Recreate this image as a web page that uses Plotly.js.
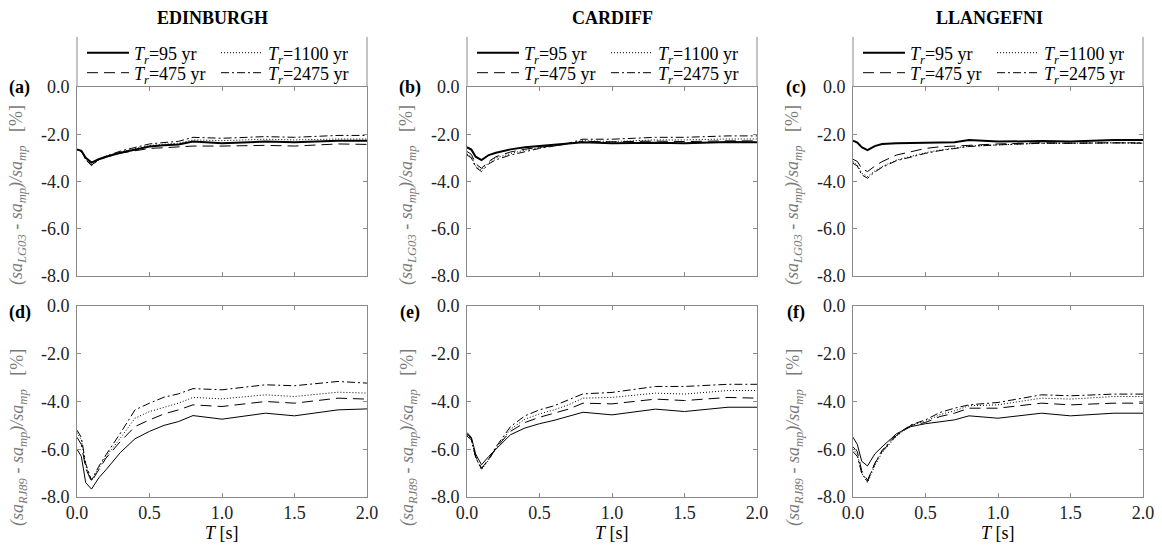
<!DOCTYPE html>
<html>
<head>
<meta charset="utf-8">
<script src="https://cdn.plot.ly/plotly-3.0.1.min.js"></script>
<style>html,body{margin:0;padding:0;background:#fff;}#chart{width:1162px;height:551px;}</style>
</head>
<body>
<div id="chart"></div>
<script>
// ---------------- data ----------------
const periods = [0, 0.03, 0.06, 0.1, 0.15, 0.2, 0.3, 0.4, 0.5, 0.6, 0.7, 0.8, 1.0, 1.3, 1.5, 1.8, 2.0];

const cities = ["EDINBURGH", "CARDIFF", "LLANGEFNI"];
const panelLabels = ["(a)", "(b)", "(c)", "(d)", "(e)", "(f)"];
const returnPeriods = ["95", "475", "1100", "2475"];

const xTickVals = [0, 0.5, 1.0, 1.5, 2.0];
const xTickText = ["0.0", "0.5", "1.0", "1.5", "2.0"];
const yTickVals = [-8, -6, -4, -2, 0];
const yTickText = ["-8.0", "-6.0", "-4.0", "-2.0", "0.0"];

// (a) Edinburgh, LG03
const a_95   = [-2.64, -2.70, -3.00, -3.20, -3.06, -2.95, -2.78, -2.64, -2.52, -2.47, -2.43, -2.31, -2.38, -2.31, -2.34, -2.27, -2.27];
const a_475  = [-2.64, -2.72, -3.05, -3.30, -3.10, -2.97, -2.80, -2.70, -2.60, -2.57, -2.55, -2.50, -2.50, -2.47, -2.50, -2.41, -2.43];
const a_1100 = [-2.64, -2.72, -3.05, -3.30, -3.08, -2.93, -2.75, -2.60, -2.48, -2.42, -2.38, -2.24, -2.27, -2.21, -2.24, -2.20, -2.20];
const a_2475 = [-2.64, -2.72, -3.08, -3.33, -3.08, -2.93, -2.71, -2.55, -2.41, -2.35, -2.30, -2.13, -2.17, -2.10, -2.13, -2.05, -2.05];
// (b) Cardiff, LG03
const b_95   = [-2.55, -2.65, -2.95, -3.09, -2.88, -2.78, -2.64, -2.55, -2.50, -2.45, -2.41, -2.34, -2.38, -2.36, -2.38, -2.33, -2.34];
const b_475  = [-2.73, -2.85, -3.25, -3.44, -3.15, -2.95, -2.75, -2.63, -2.55, -2.48, -2.42, -2.30, -2.32, -2.29, -2.31, -2.28, -2.28];
const b_1100 = [-2.84, -2.95, -3.35, -3.51, -3.20, -3.00, -2.82, -2.67, -2.57, -2.49, -2.40, -2.27, -2.31, -2.24, -2.24, -2.20, -2.20];
const b_2475 = [-2.88, -3.00, -3.40, -3.58, -3.25, -3.08, -2.88, -2.73, -2.60, -2.50, -2.38, -2.21, -2.21, -2.13, -2.13, -2.07, -2.07];
// (c) Llangefni, LG03
const c_95   = [-2.27, -2.35, -2.55, -2.67, -2.50, -2.41, -2.38, -2.37, -2.36, -2.35, -2.34, -2.24, -2.31, -2.29, -2.31, -2.24, -2.24];
const c_475  = [-3.06, -3.15, -3.45, -3.58, -3.35, -3.16, -2.88, -2.73, -2.60, -2.53, -2.50, -2.45, -2.41, -2.36, -2.38, -2.36, -2.38];
const c_1100 = [-3.16, -3.30, -3.65, -3.79, -3.55, -3.37, -3.09, -2.92, -2.78, -2.67, -2.60, -2.50, -2.45, -2.38, -2.38, -2.36, -2.38];
const c_2475 = [-3.23, -3.35, -3.72, -3.86, -3.60, -3.40, -3.12, -2.95, -2.81, -2.69, -2.60, -2.52, -2.45, -2.38, -2.38, -2.36, -2.36];
// (d) Edinburgh, RJ89
const d_95   = [-6.00, -6.30, -7.40, -7.67, -7.20, -6.86, -6.13, -5.56, -5.25, -5.00, -4.84, -4.59, -4.74, -4.49, -4.60, -4.35, -4.31];
const d_475  = [-5.50, -5.80, -6.80, -7.35, -6.86, -6.37, -5.67, -5.05, -4.77, -4.52, -4.35, -4.14, -4.21, -4.00, -4.07, -3.86, -3.90];
const d_1100 = [-5.30, -5.60, -6.70, -7.30, -6.80, -6.30, -5.53, -4.70, -4.42, -4.24, -4.07, -3.83, -3.89, -3.72, -3.79, -3.61, -3.65];
const d_2475 = [-5.20, -5.50, -6.60, -7.30, -6.72, -6.23, -5.32, -4.35, -4.07, -3.82, -3.68, -3.46, -3.51, -3.30, -3.34, -3.16, -3.23];
// (e) Cardiff, RJ89
const e_95   = [-5.30, -5.50, -6.20, -6.65, -6.30, -6.00, -5.39, -5.11, -4.93, -4.79, -4.63, -4.45, -4.56, -4.32, -4.42, -4.24, -4.24];
const e_475  = [-5.35, -5.55, -6.30, -6.79, -6.44, -5.95, -5.25, -4.88, -4.66, -4.49, -4.32, -4.07, -4.10, -3.90, -3.96, -3.83, -3.86];
const e_1100 = [-5.40, -5.60, -6.35, -6.86, -6.44, -5.95, -5.16, -4.74, -4.52, -4.35, -4.14, -3.86, -3.83, -3.65, -3.69, -3.54, -3.54];
const e_2475 = [-5.45, -5.60, -6.35, -6.82, -6.40, -5.90, -5.05, -4.60, -4.35, -4.18, -3.93, -3.68, -3.62, -3.37, -3.37, -3.28, -3.28];
// (f) Llangefni, RJ89
const f_95   = [-5.50, -5.80, -6.50, -6.70, -6.20, -5.90, -5.35, -5.05, -4.93, -4.84, -4.77, -4.60, -4.70, -4.49, -4.60, -4.49, -4.49];
const f_475  = [-5.90, -6.10, -6.90, -7.30, -6.60, -6.10, -5.42, -5.00, -4.88, -4.63, -4.49, -4.28, -4.28, -4.07, -4.14, -4.07, -4.07];
const f_1100 = [-6.00, -6.20, -7.00, -7.40, -6.70, -6.15, -5.45, -5.00, -4.83, -4.55, -4.39, -4.18, -4.14, -3.86, -3.90, -3.79, -3.79];
const f_2475 = [-6.10, -6.30, -7.00, -7.35, -6.60, -6.05, -5.38, -4.98, -4.77, -4.46, -4.28, -4.14, -4.04, -3.72, -3.76, -3.69, -3.69];

const panels = [
  [a_95, a_475, a_1100, a_2475],
  [b_95, b_475, b_1100, b_2475],
  [c_95, c_475, c_1100, c_2475],
  [d_95, d_475, d_1100, d_2475],
  [e_95, e_475, e_1100, e_2475],
  [f_95, f_475, f_1100, f_2475]
];

// ---------------- layout helpers ----------------
const W = 1162, H = 551;
const FONT = "Liberation Serif";
const AXC = "#8a8a8a";
const px = v => v / W;
const py = v => 1 - v / H;

const colLeft = [77, 467, 853];
const colTitleX = [213, 612, 989];
const colW = 290;
const rowTop = [87, 306];
const rowBot = [276, 497];

const dashes = ["solid", "11px,6px", "1px,2px", "8px,3px,2px,3px"];
const legendRow = [0, 1, 0, 1]; // 95 & 1100 in row 1, 475 & 2475 in row 2
const legendKey = n => "legend" + (n === 0 ? "" : String(n + 1));

const traces = [];
panels.forEach((series, p) => {
  const ax = p === 0 ? "" : String(p + 1);
  const top = p < 3;
  series.forEach((vals, s) => {
    const t = {
      type: "scatter", mode: "lines",
      x: periods, y: vals,
      xaxis: "x" + ax, yaxis: "y" + ax,
      name: "<i>T</i><sub><i>r</i></sub>=" + returnPeriods[s] + " yr",
      line: {color: "#000", width: (top && s === 0) ? 2 : 1, dash: dashes[s]},
      showlegend: top,
      hoverinfo: "skip"
    };
    if (top) t.legend = legendKey(p * 2 + legendRow[s]);
    traces.push(t);
  });
});

const layout = {
  width: W, height: H,
  margin: {l: 0, r: 0, t: 0, b: 0},
  paper_bgcolor: "#fff", plot_bgcolor: "#fff",
  showlegend: true,
  font: {family: FONT, size: 18, color: "#222"},
  annotations: [], shapes: []
};

for (let p = 0; p < 6; p++) {
  const ax = p === 0 ? "" : String(p + 1);
  const c = p % 3, r = Math.floor(p / 3);
  const L = colLeft[c];
  const common = {
    ticks: "inside", ticklen: 4, tickwidth: 1, tickcolor: AXC,
    showline: true, linecolor: AXC, linewidth: 1, mirror: "ticks",
    showgrid: false, zeroline: false, fixedrange: true,
    tickfont: {family: FONT, size: 18, color: "#222"}
  };
  layout["xaxis" + ax] = Object.assign({}, common, {
    domain: [px(L), px(L + colW)], anchor: "y" + ax,
    range: [0, 2], tickmode: "array", tickvals: xTickVals, ticktext: xTickText,
    showticklabels: r === 1, ticklabelstandoff: -1
  });
  layout["yaxis" + ax] = Object.assign({}, common, {
    domain: [py(rowBot[r]), py(rowTop[r])], anchor: "x" + ax,
    range: [-8, 0], tickmode: "array", tickvals: yTickVals, ticktext: yTickText,
    ticklabelstandoff: 3
  });
  // panel label
  layout.annotations.push({
    xref: "paper", yref: "paper", x: px(L - 57), y: py(rowTop[r] + (r === 0 ? 1 : 6)),
    xanchor: "center", yanchor: "middle", showarrow: false,
    text: "<b>" + panelLabels[p] + "</b>", font: {family: FONT, size: 18, color: "#000"}
  });
  // y-axis title
  const sub = r === 0 ? "LG03" : "RJ89";
  layout.annotations.push({
    xref: "paper", yref: "paper", x: px(L - 59), y: py(r === 0 ? 195 : 438),
    xanchor: "center", yanchor: "middle", showarrow: false, textangle: -90,
    text: "<i>(sa</i><sub><i>" + sub + "</i></sub><i> - sa</i><sub><i>mp</i></sub><i>)/sa</i><sub><i>mp</i></sub>   [%]",
    font: {family: FONT, size: 18, color: "#7a7a7a"}
  });
  if (r === 1) {
    layout.annotations.push({
      xref: "paper", yref: "paper", x: px(L + colW / 2), y: py(533),
      xanchor: "center", yanchor: "middle", showarrow: false,
      text: "<i>T</i> [s]", font: {family: FONT, size: 18, color: "#000"}
    });
  } else {
    // column title
    layout.annotations.push({
      xref: "paper", yref: "paper", x: px(colTitleX[c]), y: py(18),
      xanchor: "center", yanchor: "middle", showarrow: false,
      text: "<b>" + cities[c] + "</b>", font: {family: FONT, size: 18, color: "#000"}
    });
    // legend box sides
    [0, 1].forEach(k => {
      layout.shapes.push({
        type: "line", xref: "paper", yref: "paper",
        x0: px(L + k * colW), x1: px(L + k * colW), y0: py(37), y1: py(87),
        line: {color: AXC, width: 1}
      });
    });
    // two legend rows
    [53, 73].forEach((yy, k) => {
      layout[legendKey(p * 2 + k)] = {
        visible: true,
        orientation: "h", x: px(L + 5), xanchor: "left", y: py(yy), yanchor: "middle",
        entrywidth: 77, entrywidthmode: "pixels", itemwidth: 42,
        bgcolor: "rgba(0,0,0,0)", borderwidth: 0,
        font: {family: FONT, size: 18, color: "#000"},
        traceorder: "normal"
      };
    });
  }
}

Plotly.newPlot("chart", traces, layout, {displayModeBar: false});
</script>
</body>
</html>
